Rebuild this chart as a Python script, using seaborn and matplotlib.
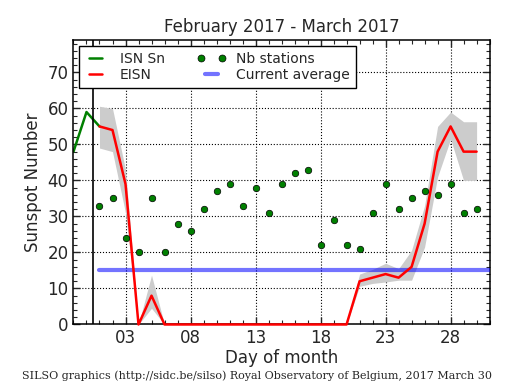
import numpy as np
import pandas as pd
import seaborn as sns
from matplotlib import pyplot as plt
from matplotlib.lines import Line2D
from matplotlib.legend_handler import HandlerLine2D

# ISN of the end of the previous month
isn_days = [-1, 0, 1]
isn_values = [48, 59, 55]

# estimated ISN for the current month, with its spread
days = list(range(1, 31))
eisn = [55, 54, 39, 0, 8, 0, 0, 0, 0, 0, 0, 0, 0, 0, 0,
        0, 0, 0, 0, 0, 12, 13, 14, 13, 16, 28, 48, 55, 48, 48]
eisn_low = [49, 48, 31, 0, 4.5, 0, 0, 0, 0, 0, 0, 0, 0, 0, 0,
            0, 0, 0, 0, 0, 10.6, 11.4, 11.8, 12.3, 12.3, 21.5, 41, 51.5, 40, 40]
eisn_high = [60.6, 60, 43, 0, 13.7, 0, 0, 0, 0, 0, 0, 0, 0, 0, 0,
             0, 0, 0, 0, 0, 14, 15.3, 17, 15.5, 20.6, 33, 55, 59, 56.3, 56.3]
nb_stations = [33, 35, 24, 20, 35, 20, 28, 26, 32, 37, 39, 33, 38, 31, 39,
               42, 43, 22, 29, 22, 21, 31, 39, 32, 35, 37, 36, 39, 31, 32]

avg_days = [1, 31]
avg_values = [15, 15]

xtick_pos = [3, 8, 13, 18, 23, 28]
xtick_labels = ['03', '08', '13', '18', '23', '28']

sns.set_style('ticks', {'xtick.direction': 'in', 'ytick.direction': 'in',
                        'axes.edgecolor': 'black'})
plt.rcParams['font.family'] = ['DejaVu Sans']
plt.rcParams['xtick.top'] = True
plt.rcParams['ytick.right'] = True

df = pd.DataFrame({'day': days, 'eisn': eisn, 'low': eisn_low,
                   'high': eisn_high, 'nb': nb_stations})

fig = plt.figure(figsize=(5.15, 3.9), dpi=100)
ax = fig.add_axes([0.1427, 0.168, 0.808, 0.7294])

ax.fill_between(df['day'], df['low'], df['high'], color='0.8', lw=0, zorder=1)
sns.lineplot(x=isn_days, y=isn_values, ax=ax, color='green', lw=1.8, zorder=2)
sns.lineplot(x=avg_days, y=avg_values, ax=ax, color='blue', alpha=0.55, lw=3,
             zorder=3)
sns.lineplot(data=df, x='day', y='eisn', ax=ax, color='red', lw=1.8, zorder=4)
ax.lines[-1].set_clip_on(False)
sns.scatterplot(data=df, x='day', y='nb', ax=ax, color='green', s=22,
                edgecolor='black', linewidth=0.5, zorder=5)
ax.axvline(0.5, color='black', lw=1.2, zorder=2)

ax.set_xlim(-1, 31)
ax.set_ylim(0, 79)
ax.set_xticks(xtick_pos)
ax.set_xticklabels(xtick_labels)
ax.set_xticks(np.arange(-1, 32, 1), minor=True)
ax.set_yticks(np.arange(0, 80, 10))
ax.set_yticks(np.arange(0, 80, 2), minor=True)
ax.tick_params(which='both', direction='in', top=True, right=True, labelsize=12)
ax.tick_params(which='major', length=5, width=1)
ax.tick_params(which='minor', length=3, width=0.8)
ax.grid(True, which='major', linestyle=':', color='black', lw=0.8)
for s in ax.spines.values():
    s.set_linewidth(1.1)

ax.set_xlabel('Day of month', fontsize=12, labelpad=1)
ax.set_ylabel('Sunspot Number', fontsize=12)
ax.set_title('February 2017 - March 2017', fontsize=12, pad=6)

# legend: two columns, ISN/EISN left, stations/average right
dots = Line2D([], [], color='green', marker='o', ls='none', ms=5,
              mec='black', mew=0.5)
handles = [Line2D([], [], color='green', lw=1.8),
           Line2D([], [], color='red', lw=1.8),
           dots,
           Line2D([], [], color='blue', alpha=0.55, lw=3)]
labels = ['ISN Sn', 'EISN', 'Nb stations', 'Current average']
leg = ax.legend(handles, labels, loc='upper left', ncol=2, fontsize=10,
                numpoints=2, fancybox=False, framealpha=1, edgecolor='black',
                borderaxespad=0.4, borderpad=0.45, labelspacing=0.15,
                handlelength=1.5, handletextpad=1.0, columnspacing=2.6,
                handler_map={dots: HandlerLine2D(marker_pad=0)})
leg.get_frame().set_linewidth(1)

fig.text(0.5, 0.028, 'SILSO graphics (http://sidc.be/silso) Royal Observatory of Belgium, 2017 March 30',
         ha='center', fontsize=8, family='DejaVu Serif')

fig.savefig('out.png', dpi=100)
